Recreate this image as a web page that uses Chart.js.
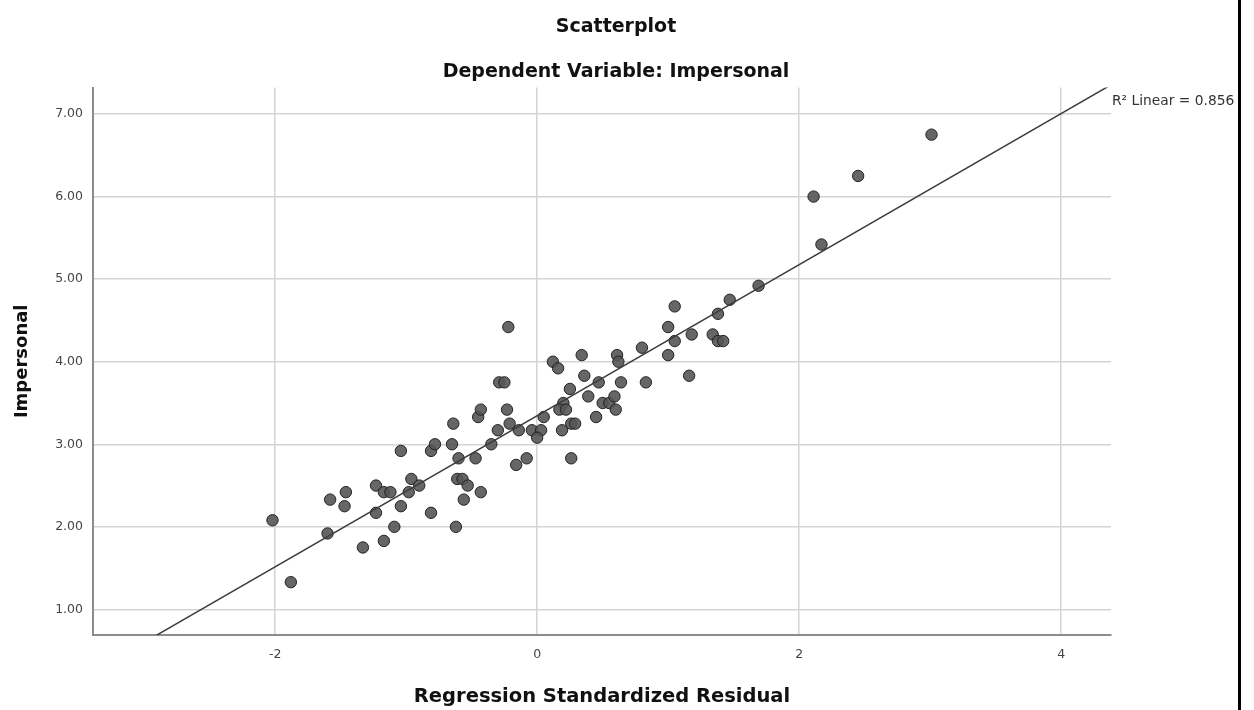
<!DOCTYPE html>
<html>
<head>
<meta charset="utf-8">
<title>Scatterplot</title>
<script src="https://cdn.jsdelivr.net/npm/chart.js@4/dist/chart.umd.min.js"></script>
<style>
  html, body { margin: 0; padding: 0; background: #fff; }
  .chart-wrap { position: relative; width: 1254px; height: 710px; }
</style>
</head>
<body>
<div class="chart-wrap"><canvas id="scatter"></canvas></div>
<script>
// Regression standardized residual (x) vs Impersonal (y)
const residual = [
    -2.02, -1.88, -1.60, -1.58, -1.47, -1.46, -1.33, -1.23, -1.23, -1.17,
    -1.12, -1.17, -1.09, -1.04, -1.04, -0.98, -0.96, -0.90, -0.81, -0.78,
    -0.81, -0.65, -0.64, -0.62, -0.60, -0.61, -0.57, -0.56, -0.53, -0.47,
    -0.43, -0.45, -0.43, -0.35, -0.30, -0.29, -0.25, -0.23, -0.21, -0.22,
    -0.16, -0.14, -0.08, -0.04, 0.03, 0.00, 0.05, 0.12, 0.16, 0.19,
    0.20, 0.17, 0.22, 0.25, 0.26, 0.29, 0.26, 0.34, 0.36, 0.39,
    0.45, 0.47, 0.50, 0.55, 0.59, 0.60, 0.61, 0.62, 0.64, 0.80,
    0.83, 1.00, 1.00, 1.05, 1.05, 1.18, 1.16, 1.34, 1.38, 1.38,
    1.42, 1.47, 1.69, 2.11, 2.17, 2.45, 3.01
];
const impersonal = [
    2.08, 1.33, 1.92, 2.33, 2.25, 2.42, 1.75, 2.50, 2.17, 2.42,
    2.42, 1.83, 2.00, 2.25, 2.92, 2.42, 2.58, 2.50, 2.92, 3.00,
    2.17, 3.00, 3.25, 2.00, 2.83, 2.58, 2.58, 2.33, 2.50, 2.83,
    2.42, 3.33, 3.42, 3.00, 3.17, 3.75, 3.75, 3.42, 3.25, 4.42,
    2.75, 3.17, 2.83, 3.17, 3.17, 3.08, 3.33, 4.00, 3.92, 3.17,
    3.50, 3.42, 3.42, 3.67, 3.25, 3.25, 2.83, 4.08, 3.83, 3.58,
    3.33, 3.75, 3.50, 3.50, 3.58, 3.42, 4.08, 4.00, 3.75, 4.17,
    3.75, 4.42, 4.08, 4.67, 4.25, 4.33, 3.83, 4.33, 4.58, 4.25,
    4.25, 4.75, 4.92, 6.00, 5.42, 6.25, 6.75
];
const yTicks = [1, 2, 3, 4, 5, 6, 7];
const xTicks = [-2, 0, 2, 4];
const fitLabel = 'R\u00B2 Linear = 0.856';

const xMin = -3.39, xMax = 4.38;
const yMin = 0.69, yMax = 7.32;

// least squares line of impersonal on residual
function linearFit(xs, ys) {
    const n = xs.length;
    let sx = 0, sy = 0, sxx = 0, sxy = 0;
    for (let i = 0; i < n; i++) {
        sx += xs[i]; sy += ys[i];
        sxx += xs[i] * xs[i]; sxy += xs[i] * ys[i];
    }
    const slope = (n * sxy - sx * sy) / (n * sxx - sx * sx);
    return { slope: slope, intercept: (sy - slope * sx) / n };
}
const fit = linearFit(residual, impersonal);

const points = residual.map((x, i) => ({ x: x, y: impersonal[i] }));
const fitLine = [xMin, xMax].map(x => ({ x: x, y: fit.intercept + fit.slope * x }));

const FONT = "'DejaVu Sans', 'Liberation Sans', Arial, sans-serif";

// R² note next to the line end and the dark frame edge on the right
const extras = {
    id: 'extras',
    afterDraw(chart) {
        const ctx = chart.ctx;
        const area = chart.chartArea;
        ctx.save();
        ctx.fillStyle = '#333';
        ctx.font = '13.8px ' + FONT;
        ctx.textBaseline = 'middle';
        ctx.textAlign = 'left';
        ctx.fillText(fitLabel, area.right + 1, area.top + 14);
        ctx.fillStyle = '#000';
        ctx.fillRect(1238, 0, 3, chart.height);
        ctx.restore();
    }
};

new Chart(document.getElementById('scatter'), {
    type: 'scatter',
    data: {
        datasets: [
            {
                type: 'line',
                data: fitLine,
                borderColor: '#3c3c3c',
                borderWidth: 1.5,
                pointRadius: 0,
                fill: false,
                order: 0,
            },
            {
                data: points,
                backgroundColor: 'rgba(85, 85, 85, 0.9)',
                borderColor: 'rgba(30, 30, 30, 0.95)',
                borderWidth: 1,
                pointRadius: 5.7,
                order: 1,
            },
        ]
    },
    options: {
        responsive: true,
        maintainAspectRatio: false,
        animation: false,
        layout: {
            padding: { top: 0, right: 22, bottom: 0, left: 0 }
        },
        plugins: {
            legend: { display: false },
            tooltip: { enabled: false },
            title: {
                display: true,
                text: 'Scatterplot',
                color: '#111',
                font: { family: FONT, size: 19, weight: 'bold' },
                padding: { top: 16, bottom: 12 },
            },
            subtitle: {
                display: true,
                text: 'Dependent Variable: Impersonal',
                color: '#111',
                font: { family: FONT, size: 19, weight: 'bold' },
                padding: { top: 10, bottom: 4 },
            },
        },
        scales: {
            x: {
                type: 'linear',
                position: 'bottom',
                min: xMin,
                max: xMax,
                afterFit: function(scale) { scale.height = 75; },
                afterBuildTicks: function(scale) {
                    scale.ticks = xTicks.map(v => ({ value: v }));
                },
                ticks: {
                    color: '#444',
                    font: { family: FONT, size: 12.5 },
                    padding: 12,
                    callback: v => String(v),
                },
                grid: { color: '#d3d3d3', lineWidth: 1.5, drawTicks: false },
                border: { color: '#8c8c8c', width: 2 },
                title: {
                    display: true,
                    text: 'Regression Standardized Residual',
                    color: '#111',
                    font: { family: FONT, size: 19.5, weight: 'bold' },
                    padding: { top: 4, bottom: 1 },
                },
            },
            y: {
                type: 'linear',
                position: 'left',
                min: yMin,
                max: yMax,
                afterFit: function(scale) { scale.width = 93; },
                afterBuildTicks: function(scale) {
                    scale.ticks = yTicks.map(v => ({ value: v }));
                },
                ticks: {
                    color: '#444',
                    font: { family: FONT, size: 12.5 },
                    padding: 10,
                    callback: v => Number(v).toFixed(2),
                },
                grid: { color: '#d3d3d3', lineWidth: 1.5, drawTicks: false },
                border: { color: '#8c8c8c', width: 2 },
                title: {
                    display: true,
                    text: 'Impersonal',
                    color: '#111',
                    font: { family: FONT, size: 18, weight: 'bold' },
                    padding: { top: 12, bottom: 0 },
                },
            },
            // empty right-hand axis only keeps room for the R² note
            side: {
                type: 'linear',
                position: 'right',
                display: true,
                afterFit: function(scale) { scale.width = 121; },
                ticks: { display: false },
                grid: { display: false, drawTicks: false },
                border: { display: false },
            },
        },
    },
    plugins: [extras],
});
</script>
</body>
</html>
